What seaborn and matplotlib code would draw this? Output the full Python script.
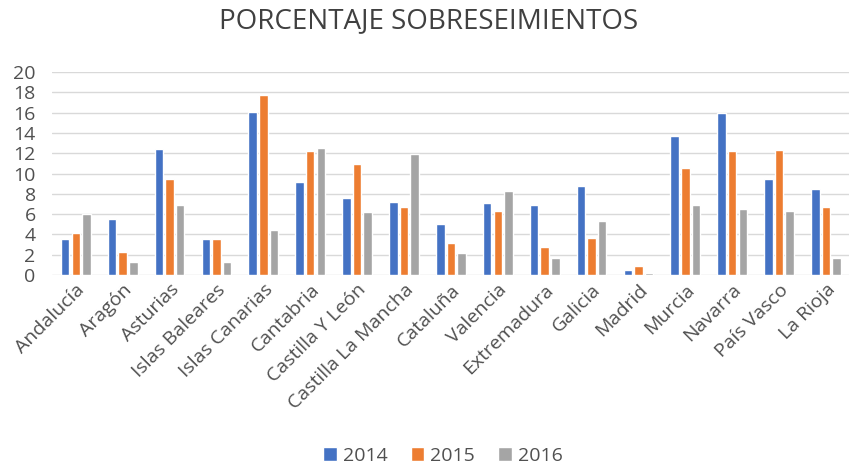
import pandas as pd
import numpy as np
import matplotlib
matplotlib.use('Agg')
import matplotlib.pyplot as plt
import seaborn as sns

regiones = ['Andalucía', 'Aragón', 'Asturias', 'Islas Baleares', 'Islas Canarias',
            'Cantabria', 'Castilla Y León', 'Castilla La Mancha', 'Cataluña', 'Valencia',
            'Extremadura', 'Galicia', 'Madrid', 'Murcia', 'Navarra', 'País Vasco', 'La Rioja']
v2014 = [3.6, 5.5, 12.4, 3.6, 16.1, 9.2, 7.6, 7.2, 5.0, 7.1, 6.9, 8.8, 0.5, 13.7, 16.0, 9.5, 8.5]
v2015 = [4.1, 2.3, 9.5, 3.6, 17.7, 12.2, 10.9, 6.7, 3.2, 6.3, 2.8, 3.7, 0.9, 10.5, 12.2, 12.3, 6.7]
v2016 = [6.0, 1.3, 6.9, 1.3, 4.4, 12.5, 6.2, 11.9, 2.2, 8.3, 1.7, 5.3, 0.2, 6.9, 6.5, 6.3, 1.7]
years = ['2014', '2015', '2016']

df = pd.DataFrame({'region': regiones * 3,
                   'year': np.repeat(years, len(regiones)),
                   'valor': v2014 + v2015 + v2016})

sns.set_style('white')
plt.rcParams['font.family'] = ['Open Sans', 'DejaVu Sans']

fig = plt.figure(figsize=(8.58, 4.71), dpi=100)
ax = fig.add_axes([0.061, 0.416, 0.929, 0.431])
sns.barplot(data=df, x='region', y='valor', hue='year', ax=ax,
            palette=['#4472C4', '#ED7D31', '#A5A5A5'], width=0.68, gap=0.2,
            saturation=1)

ax.set_ylim(0, 20)
ax.set_yticks(range(0, 21, 2))
ax.yaxis.grid(True, color='#d9d9d9', linewidth=1)
ax.set_axisbelow(True)
for s in ax.spines.values():
    s.set_visible(False)
ax.set_xlabel('')
ax.set_ylabel('')
ax.tick_params(axis='both', length=0, labelsize=14, colors='#505050')
ax.tick_params(axis='y', pad=12)
ax.tick_params(axis='x', pad=4)
plt.setp(ax.get_xticklabels(), rotation=45, ha='right', rotation_mode='anchor')
ax.set_xlim(-0.5, len(regiones) - 0.5)

fig.suptitle('PORCENTAJE SOBRESEIMIENTOS', y=0.985, fontsize=20, color='#404040')
ax.legend(loc='lower center', bbox_to_anchor=(0.49, -1.02), ncol=3, frameon=False,
          fontsize=14, handlelength=0.7, handleheight=0.7, handletextpad=0.3,
          columnspacing=1.2, labelcolor='#505050')

fig.savefig('out.png', dpi=100)
